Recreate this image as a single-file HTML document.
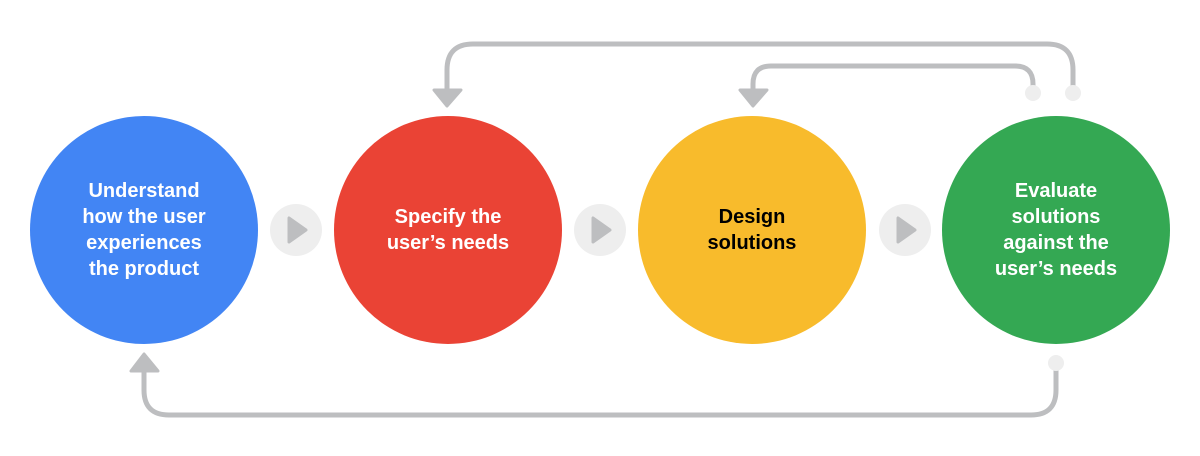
<!DOCTYPE html>
<html><head><style>
html,body{margin:0;padding:0;background:#fff;}
svg{display:block}
text{font-family:"Liberation Sans",sans-serif;font-weight:bold;font-size:20px;text-anchor:middle}
</style></head><body>
<svg width="1200" height="456" viewBox="0 0 1200 456" xmlns="http://www.w3.org/2000/svg">
<g fill="none" stroke="#bdbec0" stroke-width="5">
<path d="M1073 93 V70 Q1073 44 1047 44 H473 Q447 44 447 70 V92"/>
<path d="M1033 93 V84 Q1033 66 1015 66 H771 Q753 66 753 84 V92"/>
<path d="M1056 363 V390 Q1056 415 1031 415 H169 Q144 415 144 390 V368"/>
</g>
<g fill="#bdbec0" stroke="#bdbec0" stroke-width="3" stroke-linejoin="round">
<polygon points="434,90 461,90 447,106"/>
<polygon points="740,90 767,90 753,106"/>
<polygon points="131,371 158,371 144,354"/>
</g>
<g fill="#eeeeee">
<circle cx="1033" cy="93" r="8"/><circle cx="1073" cy="93" r="8"/><circle cx="1056" cy="363" r="8"/>
<circle cx="296" cy="230" r="26"/><circle cx="600" cy="230" r="26"/><circle cx="905" cy="230" r="26"/>
</g>
<g fill="#bdbec0" stroke="#bdbec0" stroke-width="3" stroke-linejoin="round">
<polygon points="289,218 289,242 306,230"/>
<polygon points="593,218 593,242 610,230"/>
<polygon points="898,218 898,242 915,230"/>
</g>
<circle cx="144" cy="230" r="114" fill="#4285f4"/>
<circle cx="448" cy="230" r="114" fill="#ea4335"/>
<circle cx="752" cy="230" r="114" fill="#f8bb2c"/>
<circle cx="1056" cy="230" r="114" fill="#34a853"/>
<g fill="#fff">
<text x="144" y="197">Understand</text>
<text x="144" y="223">how the user</text>
<text x="144" y="249">experiences</text>
<text x="144" y="275">the product</text>
<text x="448" y="223">Specify the</text>
<text x="448" y="249">user’s needs</text>
<text x="1056" y="197">Evaluate</text>
<text x="1056" y="223">solutions</text>
<text x="1056" y="249">against the</text>
<text x="1056" y="275">user’s needs</text>
</g>
<g fill="#000">
<text x="752" y="223">Design</text>
<text x="752" y="249">solutions</text>
</g>
</svg>
</body></html>
